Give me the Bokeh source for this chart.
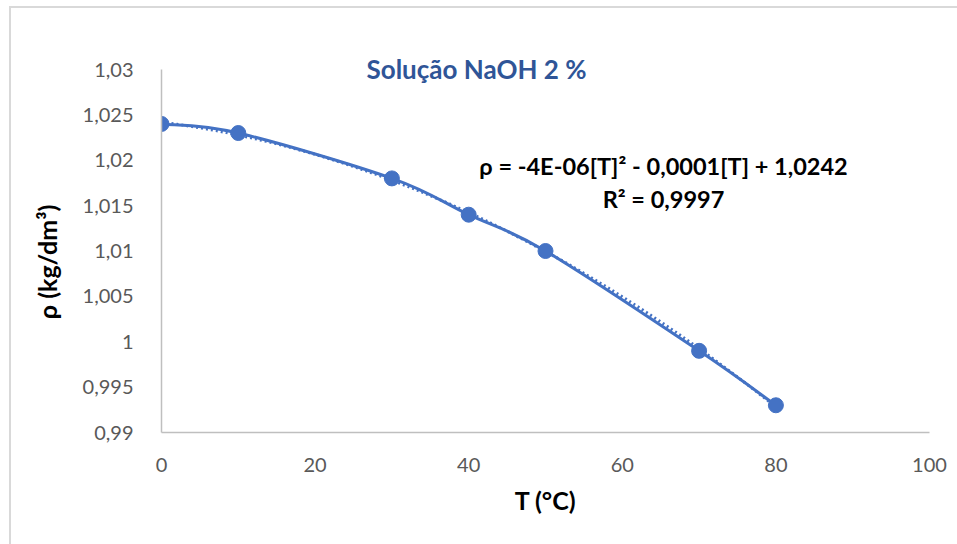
import numpy as np
from bokeh.plotting import figure
from bokeh.models import Range1d, FixedTicker, Label, InlineStyleSheet
from bokeh.embed import file_html
from bokeh.resources import INLINE

# Density of 2 % NaOH solution versus temperature
temperature = [0, 10, 30, 40, 50, 70, 80]
density = [1.024, 1.023, 1.018, 1.014, 1.010, 0.999, 0.993]

x_ticks = [0, 20, 40, 60, 80, 100]
y_ticks = [0.99, 0.995, 1.0, 1.005, 1.01, 1.015, 1.02, 1.025, 1.03]
y_tick_labels = ["0,99", "0,995", "1", "1,005", "1,01", "1,015", "1,02", "1,025", "1,03"]

title_text = "Solução NaOH 2 %"
x_label = "T (°C)"
y_label = "ρ (kg/dm³)"
equation_text = "ρ = -4E-06[T]² - 0,0001[T] + 1,0242"
r2_text = "R² = 0,9997"

BLUE = "#4472C4"
FONT = "Lato"

# Axis spans 0,99..1,03 between pixel rows 69 and 432; the frame reaches higher
# so the title can sit over the top end of the value axis.
Y_LO, Y_HI = 0.99, 1.03
AXIS_TOP, AXIS_BOTTOM, FRAME_TOP = 69, 432, 30
y_end = Y_HI + (AXIS_TOP - FRAME_TOP) / (AXIS_BOTTOM - AXIS_TOP) * (Y_HI - Y_LO)

p = figure(width=957, height=544, output_backend="svg", toolbar_location=None,
           x_range=Range1d(0, 100), y_range=Range1d(Y_LO, y_end),
           min_border_left=161, min_border_right=28,
           min_border_top=FRAME_TOP, min_border_bottom=544 - AXIS_BOTTOM)
p.outline_line_color = None
p.xgrid.visible = False
p.ygrid.visible = False
p.background_fill_color = "white"
p.border_fill_color = "white"

for ax in (p.xaxis[0], p.yaxis[0]):
    ax.axis_line_color = "#bfbfbf"
    ax.axis_line_width = 1.5
    ax.major_tick_line_color = None
    ax.minor_tick_line_color = None
    ax.major_label_text_font = FONT
    ax.major_label_text_font_size = "20px"
    ax.major_label_text_color = "#595959"
    ax.axis_label_text_font = FONT
    ax.axis_label_text_font_style = "bold"
    ax.axis_label_text_font_size = "25px"
    ax.axis_label_text_color = "black"

p.xaxis.ticker = FixedTicker(ticks=x_ticks)
p.xaxis.major_label_standoff = 19
p.xaxis.axis_label = x_label
p.xaxis.axis_label_standoff = 10

p.yaxis.ticker = FixedTicker(ticks=y_ticks)
p.yaxis.bounds = (Y_LO, Y_HI)
p.yaxis.major_label_overrides = {t: s for t, s in zip(y_ticks, y_tick_labels)}
p.yaxis.major_label_standoff = 22
# trailing no-break spaces keep the label centred on the bounded axis, not the frame
p.yaxis.axis_label = y_label + "\u00a0" * 10
p.yaxis.axis_label_standoff = 18

# Polynomial (2nd order) trendline fitted to the measurements
coef = np.polyfit(temperature, density, 2)
tx = np.linspace(min(temperature), max(temperature), 200)
p.line(tx, np.polyval(coef, tx), line_color=BLUE, line_width=3, line_dash="2 3")

# Smoothed connecting line: cubic Bezier segments with Catmull-Rom style handles
xs = np.array(temperature, dtype=float)
ys = np.array(density, dtype=float)
xe = np.concatenate([[xs[0]], xs, [xs[-1]]])
ye = np.concatenate([[ys[0]], ys, [ys[-1]]])
n = len(xs)
x0, y0 = xs[:-1], ys[:-1]
x1, y1 = xs[1:], ys[1:]
cx0 = x0 + (xe[2:n + 1] - xe[0:n - 1]) / 6
cy0 = y0 + (ye[2:n + 1] - ye[0:n - 1]) / 6
cx1 = x1 - (xe[3:n + 2] - xe[1:n]) / 6
cy1 = y1 - (ye[3:n + 2] - ye[1:n]) / 6
p.bezier(x0=x0, y0=y0, x1=x1, y1=y1, cx0=cx0, cy0=cy0, cx1=cx1, cy1=cy1,
         line_color=BLUE, line_width=3)

p.scatter(temperature, density, size=15, fill_color=BLUE, line_color=BLUE)

# Canvas units: pixels from the top-left corner of the chart
p.add_layout(Label(x=476, y=68, x_units="canvas", y_units="canvas",
                   text=title_text, text_font=FONT, text_font_style="bold",
                   text_font_size="26px", text_color="#2F5597",
                   text_align="center", text_baseline="middle"))
p.add_layout(Label(x=663, y=165, x_units="canvas", y_units="canvas",
                   text=equation_text, text_font=FONT, text_font_style="bold",
                   text_font_size="23.5px", text_color="black",
                   text_align="center", text_baseline="middle"))
p.add_layout(Label(x=663, y=198, x_units="canvas", y_units="canvas",
                   text=r2_text, text_font=FONT, text_font_style="bold",
                   text_font_size="23.5px", text_color="black",
                   text_align="center", text_baseline="middle"))

# Light chart-area border along the top and left edges
p.stylesheets = [InlineStyleSheet(css="""
:host { position: relative; }
:host::after {
  content: ""; position: absolute; left: 9px; top: 6px; right: 0; bottom: 0;
  border-left: 2px solid #d9d9d9; border-top: 2px solid #d9d9d9;
  pointer-events: none;
}
""")]

open("out.html", "w").write(file_html(p, INLINE))
